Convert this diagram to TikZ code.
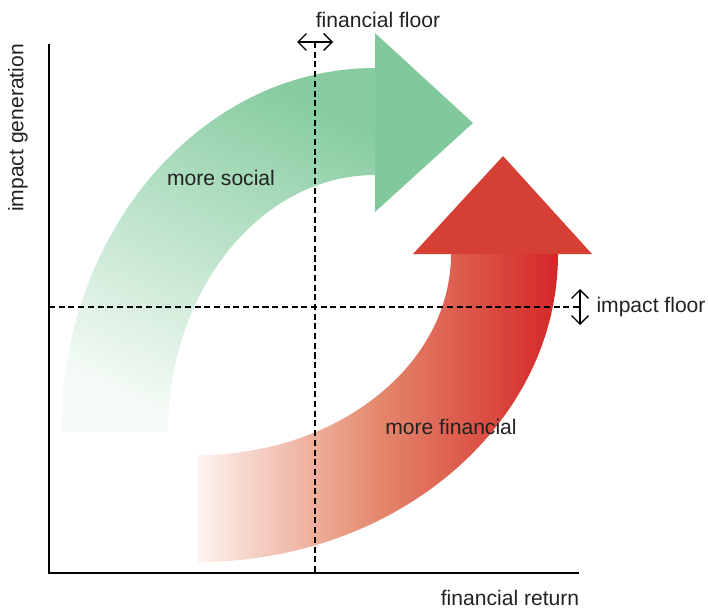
\documentclass[tikz,border=0pt]{standalone}
\usepackage{fontspec}
\setmainfont{Liberation Sans}
\definecolor{ppGreen}{RGB}{128, 201, 156}
\definecolor{ppGreenTop}{RGB}{134, 204, 160}
\definecolor{ppGreenLow}{RGB}{246, 251, 247}
\definecolor{ppRed}{RGB}{214, 64, 52}
\definecolor{ppRedEnd}{RGB}{212, 38, 40}
\definecolor{ppRedMid}{RGB}{228, 136, 108}
\definecolor{ppRedLow}{RGB}{253, 243, 239}
\definecolor{ppText}{RGB}{34, 34, 34}
\usetikzlibrary{arrows.meta, positioning, calc}
\tikzset{
  axisline/.style={line width=1.8pt, black},
  floorline/.style={line width=1.3pt, black, dash pattern=on 4.3pt off 2.6pt},
  floorarrow/.style={{Straight Barb[length=6pt,width=12pt]}-{Straight Barb[length=6pt,width=12pt]}, line width=0.9pt},
  lbl/.style={font=\fontsize{15}{18}\selectfont, text=ppText, inner sep=0pt},
}

\begin{document}
\begin{tikzpicture}[x=0.025cm, y=0.025cm]
  \useasboundingbox (0,0) rectangle (708,608);

  % green band: more social
  \shade[bottom color=ppGreenLow, top color=ppGreenTop, shading angle=-25]
    (61,176) arc[start angle=180, end angle=90, x radius=314, y radius=364]
    -- (375,433) arc[start angle=90, end angle=180, x radius=207, y radius=257] -- cycle;
  \fill[ppGreen] (375,575) -- (473,485) -- (375,396) -- cycle;

  % red band: more financial
  \shade[left color=ppRedLow, right color=ppRedEnd, middle color=ppRedMid]
    (198,46) arc[start angle=270, end angle=360, x radius=360, y radius=308]
    -- (451,354) arc[start angle=0, end angle=-90, x radius=253, y radius=201] -- cycle;
  \fill[ppRed] (413,354) -- (592,354) -- (503,452) -- cycle;

  % axes
  \coordinate (orig) at (49,35);
  \coordinate (ytop) at (49,564);
  \coordinate (xend) at (579,35);
  \draw[axisline] (ytop) -- (orig) -- (xend);

  % floors
  \coordinate (ff) at (315,566);
  \coordinate (ffb) at (315,35);
  \coordinate (if) at (580,301);
  \coordinate (ifl) at (49,301);
  \draw[floorline] (ff) -- (ffb);
  \draw[floorline] (ifl) -- (if);
  \coordinate (ffl) at (297,566);
  \coordinate (ffr) at (333,566);
  \coordinate (ift) at (580,319);
  \coordinate (ifd) at (580,283);
  \draw[floorarrow] (ffl) -- (ffr);
  \draw[floorarrow] (ift) -- (ifd);

  % labels
  \node[lbl, rotate=90] (ig) at (18,480) {impact generation};
  \node[lbl] (fr) at (510,10) {financial return};
  \node[lbl] (fflbl) at (378,588) {financial floor};
  \node[lbl] (iflbl) at (651,301) {impact floor};
  \node[lbl] (soc) at (221,430) {more social};
  \node[lbl] (fin) at (451,181) {more financial};
\end{tikzpicture}
\end{document}
